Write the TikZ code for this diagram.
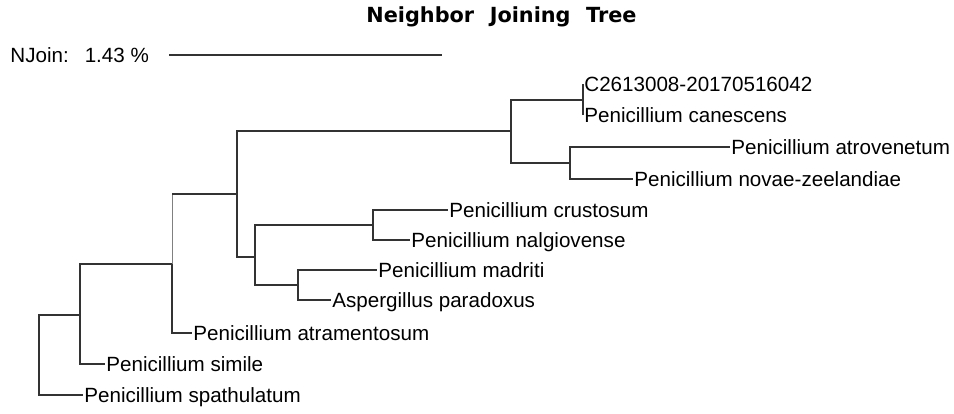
\documentclass[tikz,border=0pt]{standalone}
\usepackage{fontspec}
\setmainfont{Liberation Sans}
\newfontfamily\titlefont{DejaVu Sans}

\begin{document}
\begin{tikzpicture}[x=0.5pt,y=-0.5pt,
  branch/.style={line width=1.15pt,draw=treeline},
  faintbranch/.style={line width=0.5pt,draw=gray},
  leaf/.style={anchor=west,inner sep=0.5pt,text height=0.716em,text depth=0pt,
    font=\fontsize{10.3}{12}\selectfont}]
\definecolor{treeline}{HTML}{333333}
\useasboundingbox (0,0) rectangle (954,413);
\node[anchor=base,inner sep=0pt,font=\titlefont\bfseries\fontsize{10.4}{12}\selectfont]
  (title) at (501.5,22) {Neighbor\hspace{0.75em}Joining\hspace{0.75em}Tree};
% scale bar
\node[leaf] (njoin) at (9,55) {NJoin:\hspace{8pt}1.43 \%};
\coordinate (barL) at (169,55);
\coordinate (barR) at (442,55);
\draw[branch] (barL) -- (barR);
% internal nodes
\foreach \nm/\xx/\yy in {n1/583/100,n2/570/163,n3/511/131,n4/373/225,n5/298/285,
  n6/255/257,n7/237/194,n8/172/264,n9/80/315,root/39/355}
  {\coordinate (\nm) at (\xx,\yy);}
% leaves
\foreach \nm/\xx/\yy/\txt in {cand/583/84/C2613008-20170516042,
  cane/583/115/Penicillium canescens,
  atro/730/147/Penicillium atrovenetum,
  novae/633/179/Penicillium novae-zeelandiae,
  crus/448/210/Penicillium crustosum,
  nalg/410/240/Penicillium nalgiovense,
  madr/377/270/Penicillium madriti,
  para/331/300/Aspergillus paradoxus,
  atra/192/333/Penicillium atramentosum,
  simi/105/364/Penicillium simile,
  spat/83/395/Penicillium spathulatum}
  {\node[leaf] (\nm) at (\xx,\yy) {\txt};}
% branches
\foreach \p/\c in {root/n9,root/spat,n9/n8,n9/simi,n8/atra,n7/n3,n7/n6,
  n6/n4,n6/n5,n4/crus,n4/nalg,n5/madr,n5/para,n3/n1,n3/n2,
  n1/cand,n1/cane,n2/atro,n2/novae}
  {\draw[branch] (\p) |- (\c);}
\draw[faintbranch] (n8) -- (n8 |- n7);
\draw[branch] (n8 |- n7) -- (n7);
\end{tikzpicture}
\end{document}
